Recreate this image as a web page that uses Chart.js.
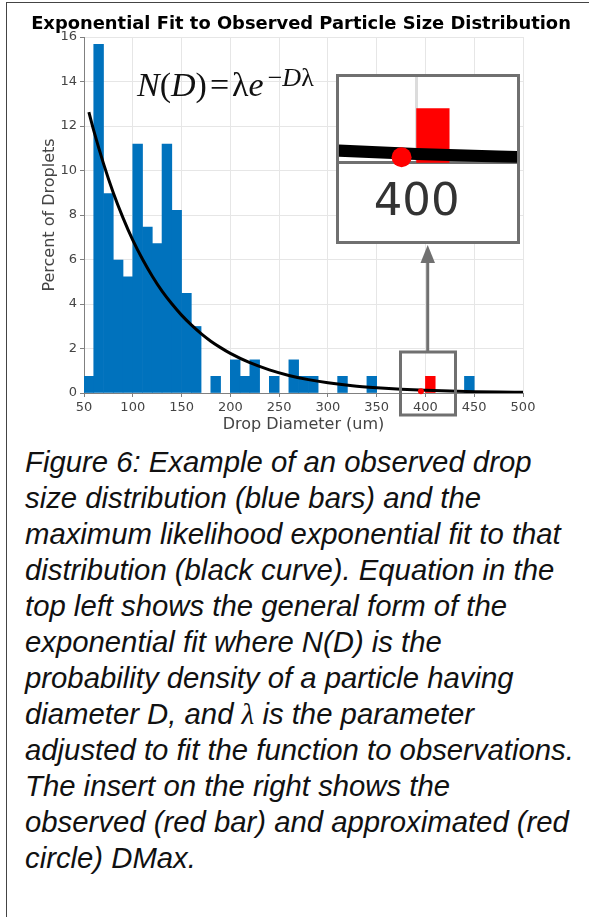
<!DOCTYPE html>
<html><head><meta charset="utf-8">
<script src="https://cdn.jsdelivr.net/npm/chart.js@4.4.0/dist/chart.umd.min.js"></script>
<style>
html,body{margin:0;padding:0;background:#fff;}
body{width:589px;height:917px;position:relative;overflow:hidden;}
#frameTop{position:absolute;left:6px;top:2px;width:583px;height:1px;background:#444;}
#frameLeft{position:absolute;left:6px;top:2px;width:1px;height:915px;background:#444;}
#main{position:absolute;left:0;top:0;}
#title{position:absolute;left:0;top:11.5px;width:602px;text-align:center;font-family:'DejaVu Sans',sans-serif;font-weight:bold;font-size:17.9px;line-height:22px;color:#000;white-space:nowrap;}
#eq{position:absolute;left:137px;top:68px;font-family:'Liberation Serif','DejaVu Serif',serif;font-size:34px;color:#111;white-space:nowrap;line-height:34px;}
#eq .sup{font-size:26px;position:relative;top:-10px;margin-left:4px;}
#insetBox{position:absolute;left:336px;top:74px;width:178px;height:164px;border:3px solid #707070;background:#fff;}
#inset{position:absolute;left:0;top:0;}
#caption{position:absolute;left:25px;top:444px;font-family:'Liberation Sans',Arial,sans-serif;font-style:italic;font-size:29.3px;line-height:36px;color:#111;white-space:nowrap;}
#caption .l{font-family:'Liberation Serif',serif;}
#ann{position:absolute;left:0;top:0;}
</style></head>
<body>
<div id="frameTop"></div><div id="frameLeft"></div>
<canvas id="main" width="589" height="440"></canvas>
<div id="title">Exponential Fit to Observed Particle Size Distribution</div>
<svg id="ann" width="589" height="440">
  <rect x="400.5" y="352" width="55" height="63" fill="none" stroke="#707070" stroke-width="3"/>
  <line x1="427.7" y1="351" x2="427.7" y2="260" stroke="#707070" stroke-width="3"/>
  <polygon points="420.5,263 435,263 427.7,245" fill="#707070"/>
</svg>
<div id="eq"><i>N</i>(<i>D</i>)<span style="margin:0 3px">=</span>λ<i>e</i><span class="sup">−<i>D</i>λ</span></div>
<div id="insetBox"><canvas id="inset" width="178" height="164"></canvas></div>
<div id="caption">Figure 6: Example of an observed drop<br>size distribution (blue bars) and the<br>maximum likelihood exponential fit to that<br>distribution (black curve). Equation in the<br>top left shows the general form of the<br>exponential fit where N(D) is the<br>probability density of a particle having<br>diameter D, and <span class="l">λ</span> is the parameter<br>adjusted to fit the function to observations.<br>The insert on the right shows the<br>observed (red bar) and approximated (red<br>circle) DMax.</div>
<script>
// ---- data ----
const binStart = [50,60,70,80,90,100,110,120,130,140,150,160,170,180,190,200,210,220,230,240,250,260,270,280,290,300,310,320,330,340,350,360,370,380,390,400,410,420,430,440,450,460,470,480,490];
const percent  = [0.75,15.67,8.96,5.97,5.22,11.19,7.46,6.72,11.19,8.21,4.48,2.99,0,0.75,0,1.49,0.75,1.49,0,0.75,0,1.49,0.75,0.75,0,0,0.75,0,0,0.75,0,0,0,0,0,0.75,0,0,0,0.75,0,0,0,0,0];
const binWidth = 10;
const dmaxBin = 400;
const fitD = [55,60,70,80,90,100,110,120,130,140,150,160,170,180,190,200,220,240,260,280,300,325,350,375,400,425,450,475,500];
const fitN = [12.62,11.79,10.31,9.00,7.87,6.87,6.01,5.25,4.58,4.01,3.50,3.06,2.67,2.33,2.04,1.78,1.36,1.04,0.79,0.60,0.46,0.33,0.24,0.17,0.12,0.085,0.061,0.044,0.031];
const dmaxPoint = [395.4, 0.075];
const xTicksRange = [50, 500, 50];
const yTicksRange = [0, 16, 2];
const insetX = [376.2, 430.8];
const insetY = [0, 1.19];
const insetTicks = [400];

const BLUE = 'rgb(0,114,189)', RED = '#ff0000';
Chart.defaults.font.family = "'DejaVu Sans', sans-serif";

function datasets(lineW, dotR){
  return [
    {type:'scatter', data:[{x:dmaxPoint[0], y:dmaxPoint[1]}], pointRadius:dotR, pointHoverRadius:dotR,
     backgroundColor:RED, borderWidth:0, order:0, clip:false},
    {type:'line', data:fitD.map((d,i)=>({x:d,y:fitN[i]})), borderColor:'#000', borderWidth:lineW,
     pointRadius:0, cubicInterpolationMode:'monotone', fill:false, order:1},
    {type:'bar', data:binStart.map((b,i)=>({x:b+binWidth/2, y:percent[i] === 0 ? null : percent[i]})),
     backgroundColor:binStart.map(b=> b===dmaxBin ? RED : BLUE), borderWidth:0,
     barPercentage:1, categoryPercentage:1, order:2}
  ];
}

new Chart(document.getElementById('main'), {
  type:'bar',
  data:{datasets:datasets(3,3)},
  options:{
    responsive:false, animation:false,
    layout:{padding:{left:0,right:66,top:37,bottom:6}, autoPadding:false},
    plugins:{legend:{display:false}, tooltip:{enabled:false}, title:{display:false}},
    scales:{
      x:{type:'linear', min:xTicksRange[0], max:xTicksRange[1], offset:false,
        afterFit:s=>{s.height=41;},
        ticks:{stepSize:xTicksRange[2], font:{size:13}, color:'#444', padding:3, maxRotation:0},
        grid:{color:'#e6e6e6', lineWidth:1, tickLength:4, tickColor:'#808080', offset:false},
        border:{color:'#808080', width:1},
        title:{display:true, text:'Drop Diameter (um)', font:{size:16}, color:'#444', padding:{top:0,bottom:0}}
      },
      y:{min:yTicksRange[0], max:yTicksRange[1],
        afterFit:s=>{s.width=84;},
        ticks:{stepSize:yTicksRange[2], font:{size:13}, color:'#444', padding:3},
        grid:{color:'#e6e6e6', lineWidth:1, tickLength:4, tickColor:'#808080'},
        border:{color:'#808080', width:1},
        title:{display:true, text:'Percent of Droplets', font:{size:16}, color:'#444', padding:{top:40.4,bottom:0}}
      }
    }
  }
});

new Chart(document.getElementById('inset'), {
  type:'bar',
  data:{datasets:datasets(12,10)},
  options:{
    responsive:false, animation:false,
    layout:{padding:0, autoPadding:false},
    plugins:{legend:{display:false}, tooltip:{enabled:false}, title:{display:false}},
    scales:{
      x:{type:'linear', min:insetX[0], max:insetX[1], offset:false,
        afterBuildTicks:s=>{s.ticks = insetTicks.map(v=>({value:v}));},
        afterFit:s=>{s.height=78.3;},
        ticks:{font:{size:45}, color:'#333', padding:14, autoSkip:false, maxRotation:0},
        grid:{color:'#dcdcdc', lineWidth:3, drawTicks:false, offset:false},
        border:{color:'#707070', width:3}
      },
      y:{display:false, min:insetY[0], max:insetY[1]}
    }
  }
});
</script>
</body></html>
